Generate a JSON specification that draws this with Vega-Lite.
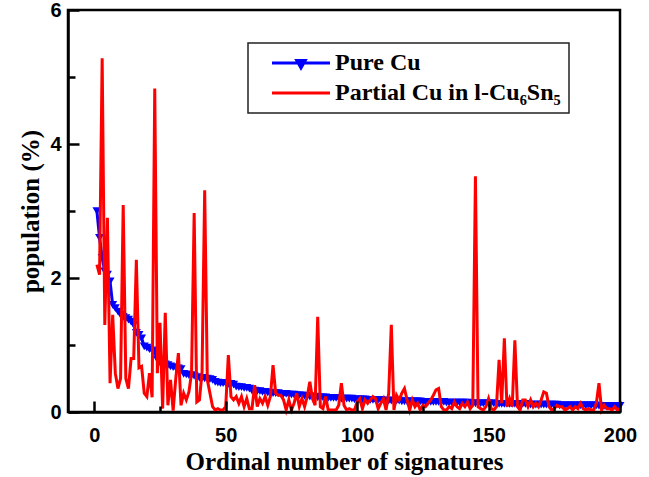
{
"$schema": "https://vega.github.io/schema/vega-lite/v6.json",
"width": 552, "height": 402,
"autosize": "none",
"padding": {"left": 68, "top": 10, "right": 29, "bottom": 65},
"background": "white",
"config": {"view": {"stroke": "black", "strokeWidth": 2.5}},
"data": {"values": [
{"n":1,"pure":3.00,"partial":2.20},{"n":2,"pure":2.60,"partial":2.05},{"n":3,"pure":2.30,"partial":5.28},{"n":4,"pure":2.10,"partial":1.30},{"n":5,"pure":2.05,"partial":2.90},
{"n":6,"pure":1.95,"partial":0.43},{"n":7,"pure":1.60,"partial":1.45},{"n":8,"pure":1.55,"partial":0.58},{"n":9,"pure":1.50,"partial":0.35},{"n":10,"pure":1.45,"partial":0.50},
{"n":11,"pure":1.42,"partial":3.09},{"n":12,"pure":1.40,"partial":0.50},{"n":13,"pure":1.38,"partial":0.35},{"n":14,"pure":1.35,"partial":0.80},{"n":15,"pure":1.30,"partial":0.80},
{"n":16,"pure":1.18,"partial":2.27},{"n":17,"pure":1.15,"partial":0.66},{"n":18,"pure":1.10,"partial":0.68},{"n":19,"pure":0.98,"partial":0.28},{"n":20,"pure":0.96,"partial":0.23},
{"n":21,"pure":0.94,"partial":0.58},{"n":22,"pure":0.92,"partial":0.22},{"n":23,"pure":0.90,"partial":4.83},{"n":24,"pure":0.78,"partial":0.58},{"n":25,"pure":0.74,"partial":1.33},
{"n":26,"pure":0.72,"partial":0.05},{"n":27,"pure":0.71,"partial":1.48},{"n":28,"pure":0.70,"partial":0.10},{"n":29,"pure":0.68,"partial":0.48},{"n":30,"pure":0.67,"partial":0.02},
{"n":31,"pure":0.66,"partial":0.50},{"n":32,"pure":0.65,"partial":0.88},{"n":33,"pure":0.64,"partial":0.10},{"n":34,"pure":0.57,"partial":0.28},{"n":35,"pure":0.56,"partial":0.18},
{"n":36,"pure":0.55,"partial":0.30},{"n":37,"pure":0.55,"partial":0.58},{"n":38,"pure":0.54,"partial":2.97},{"n":39,"pure":0.52,"partial":0.15},{"n":40,"pure":0.51,"partial":0.18},
{"n":41,"pure":0.51,"partial":0.60},{"n":42,"pure":0.50,"partial":3.31},{"n":43,"pure":0.50,"partial":0.48},{"n":44,"pure":0.49,"partial":0.28},{"n":45,"pure":0.48,"partial":0.08},
{"n":46,"pure":0.45,"partial":0.03},{"n":47,"pure":0.44,"partial":0.05},{"n":48,"pure":0.43,"partial":0.03},{"n":49,"pure":0.43,"partial":0.03},{"n":50,"pure":0.43,"partial":0.08},
{"n":51,"pure":0.42,"partial":0.85},{"n":52,"pure":0.42,"partial":0.23},{"n":53,"pure":0.41,"partial":0.18},{"n":54,"pure":0.38,"partial":0.23},{"n":55,"pure":0.37,"partial":0.13},
{"n":56,"pure":0.37,"partial":0.23},{"n":57,"pure":0.36,"partial":0.08},{"n":58,"pure":0.36,"partial":0.20},{"n":59,"pure":0.35,"partial":0.05},{"n":60,"pure":0.32,"partial":0.05},
{"n":61,"pure":0.32,"partial":0.40},{"n":62,"pure":0.31,"partial":0.08},{"n":63,"pure":0.31,"partial":0.20},{"n":64,"pure":0.30,"partial":0.13},{"n":65,"pure":0.30,"partial":0.23},
{"n":66,"pure":0.29,"partial":0.10},{"n":67,"pure":0.29,"partial":0.23},{"n":68,"pure":0.28,"partial":0.70},{"n":69,"pure":0.28,"partial":0.28},{"n":70,"pure":0.28,"partial":0.25},
{"n":71,"pure":0.27,"partial":0.25},{"n":72,"pure":0.27,"partial":0.18},{"n":73,"pure":0.27,"partial":0.03},{"n":74,"pure":0.26,"partial":0.18},{"n":75,"pure":0.26,"partial":0.03},
{"n":76,"pure":0.26,"partial":0.13},{"n":77,"pure":0.25,"partial":0.28},{"n":78,"pure":0.25,"partial":0.08},{"n":79,"pure":0.25,"partial":0.20},{"n":80,"pure":0.24,"partial":0.08},
{"n":81,"pure":0.24,"partial":0.23},{"n":82,"pure":0.23,"partial":0.45},{"n":83,"pure":0.23,"partial":0.20},{"n":84,"pure":0.23,"partial":0.10},{"n":85,"pure":0.22,"partial":1.42},
{"n":86,"pure":0.22,"partial":0.08},{"n":87,"pure":0.22,"partial":0.05},{"n":88,"pure":0.22,"partial":0.23},{"n":89,"pure":0.21,"partial":0.03},{"n":90,"pure":0.21,"partial":0.03},
{"n":91,"pure":0.21,"partial":0.03},{"n":92,"pure":0.21,"partial":0.03},{"n":93,"pure":0.21,"partial":0.10},{"n":94,"pure":0.20,"partial":0.43},{"n":95,"pure":0.20,"partial":0.10},
{"n":96,"pure":0.20,"partial":0.03},{"n":97,"pure":0.20,"partial":0.05},{"n":98,"pure":0.20,"partial":0.03},{"n":99,"pure":0.19,"partial":0.03},{"n":100,"pure":0.19,"partial":0.15},
{"n":101,"pure":0.19,"partial":0.20},{"n":102,"pure":0.19,"partial":0.05},{"n":103,"pure":0.19,"partial":0.18},{"n":104,"pure":0.18,"partial":0.13},{"n":105,"pure":0.18,"partial":0.18},
{"n":106,"pure":0.18,"partial":0.23},{"n":107,"pure":0.18,"partial":0.20},{"n":108,"pure":0.18,"partial":0.05},{"n":109,"pure":0.18,"partial":0.13},{"n":110,"pure":0.17,"partial":0.20},
{"n":111,"pure":0.17,"partial":0.03},{"n":112,"pure":0.17,"partial":0.28},{"n":113,"pure":0.17,"partial":1.30},{"n":114,"pure":0.17,"partial":0.03},{"n":115,"pure":0.17,"partial":0.25},
{"n":116,"pure":0.17,"partial":0.18},{"n":117,"pure":0.16,"partial":0.28},{"n":118,"pure":0.16,"partial":0.35},{"n":119,"pure":0.16,"partial":0.18},{"n":120,"pure":0.16,"partial":0.03},
{"n":121,"pure":0.16,"partial":0.18},{"n":122,"pure":0.16,"partial":0.08},{"n":123,"pure":0.16,"partial":0.13},{"n":124,"pure":0.16,"partial":0.03},{"n":125,"pure":0.15,"partial":0.10},
{"n":126,"pure":0.15,"partial":0.08},{"n":127,"pure":0.15,"partial":0.13},{"n":128,"pure":0.15,"partial":0.18},{"n":129,"pure":0.15,"partial":0.25},{"n":130,"pure":0.15,"partial":0.33},
{"n":131,"pure":0.15,"partial":0.35},{"n":132,"pure":0.15,"partial":0.08},{"n":133,"pure":0.15,"partial":0.03},{"n":134,"pure":0.14,"partial":0.03},{"n":135,"pure":0.14,"partial":0.08},
{"n":136,"pure":0.14,"partial":0.05},{"n":137,"pure":0.14,"partial":0.15},{"n":138,"pure":0.14,"partial":0.08},{"n":139,"pure":0.14,"partial":0.05},{"n":140,"pure":0.14,"partial":0.13},
{"n":141,"pure":0.14,"partial":0.08},{"n":142,"pure":0.14,"partial":0.15},{"n":143,"pure":0.13,"partial":0.05},{"n":144,"pure":0.13,"partial":0.10},{"n":145,"pure":0.13,"partial":3.52},
{"n":146,"pure":0.13,"partial":0.08},{"n":147,"pure":0.13,"partial":0.05},{"n":148,"pure":0.13,"partial":0.03},{"n":149,"pure":0.13,"partial":0.08},{"n":150,"pure":0.13,"partial":0.20},
{"n":151,"pure":0.13,"partial":0.05},{"n":152,"pure":0.13,"partial":0.03},{"n":153,"pure":0.12,"partial":0.08},{"n":154,"pure":0.12,"partial":0.78},{"n":155,"pure":0.12,"partial":0.13},
{"n":156,"pure":0.12,"partial":1.10},{"n":157,"pure":0.12,"partial":0.08},{"n":158,"pure":0.12,"partial":0.20},{"n":159,"pure":0.12,"partial":0.08},{"n":160,"pure":0.12,"partial":1.07},
{"n":161,"pure":0.12,"partial":0.08},{"n":162,"pure":0.12,"partial":0.03},{"n":163,"pure":0.12,"partial":0.18},{"n":164,"pure":0.12,"partial":0.18},{"n":165,"pure":0.11,"partial":0.08},
{"n":166,"pure":0.11,"partial":0.18},{"n":167,"pure":0.11,"partial":0.08},{"n":168,"pure":0.11,"partial":0.13},{"n":169,"pure":0.11,"partial":0.08},{"n":170,"pure":0.11,"partial":0.18},
{"n":171,"pure":0.11,"partial":0.30},{"n":172,"pure":0.11,"partial":0.28},{"n":173,"pure":0.11,"partial":0.08},{"n":174,"pure":0.11,"partial":0.03},{"n":175,"pure":0.11,"partial":0.05},
{"n":176,"pure":0.11,"partial":0.10},{"n":177,"pure":0.10,"partial":0.08},{"n":178,"pure":0.10,"partial":0.08},{"n":179,"pure":0.10,"partial":0.03},{"n":180,"pure":0.10,"partial":0.05},
{"n":181,"pure":0.10,"partial":0.08},{"n":182,"pure":0.10,"partial":0.03},{"n":183,"pure":0.10,"partial":0.08},{"n":184,"pure":0.10,"partial":0.05},{"n":185,"pure":0.10,"partial":0.13},
{"n":186,"pure":0.10,"partial":0.05},{"n":187,"pure":0.10,"partial":0.03},{"n":188,"pure":0.10,"partial":0.05},{"n":189,"pure":0.10,"partial":0.03},{"n":190,"pure":0.10,"partial":0.03},
{"n":191,"pure":0.10,"partial":0.13},{"n":192,"pure":0.09,"partial":0.43},{"n":193,"pure":0.09,"partial":0.03},{"n":194,"pure":0.09,"partial":0.10},{"n":195,"pure":0.09,"partial":0.05},
{"n":196,"pure":0.09,"partial":0.05},{"n":197,"pure":0.09,"partial":0.03},{"n":198,"pure":0.09,"partial":0.08},{"n":199,"pure":0.09,"partial":0.03},{"n":200,"pure":0.09,"partial":0.05}
]},
"encoding": {
  "x": {"field": "n", "type": "quantitative",
    "scale": {"domain": [-10, 200], "nice": false, "zero": false},
    "axis": {
      "values": [0,25,50,75,100,125,150,175,200],
      "format": "d",
      "labelExpr": "datum.value % 50 === 0 ? datum.label : ''",
      "labelFlush": false,
      "ticks": true,
      "tickSize": {"condition": {"test": "datum.value % 50 !== 0", "value": -6}, "value": -11},
      "tickWidth": 2.5, "tickColor": "black", "tickOpacity": 1,
      "domainColor": "black", "domainWidth": 2.5,
      "labelFont": "Liberation Sans", "labelFontWeight": "bold", "labelFontSize": 20, "labelColor": "black",
      "labelPadding": 24,
      "title": "Ordinal number of signatures", "titleFont": "Liberation Serif", "titleFontWeight": "bold", "titleFontSize": 25, "titleColor": "black", "titlePadding": 4,
      "grid": false, "zindex": 1
    }
  }
},
"layer": [
  {"mark": {"type": "line", "strokeWidth": 3},
   "encoding": {
     "y": {"field": "pure", "type": "quantitative", "title": "population (%)",
       "scale": {"domain": [0, 6], "nice": false},
       "axis": {
         "values": [0,1,2,3,4,5,6],
         "format": "d",
         "labelExpr": "datum.value % 2 === 0 ? datum.label : ''",
         "labelFlush": false,
         "ticks": true,
         "tickSize": {"condition": {"test": "datum.value % 2 !== 0", "value": -7}, "value": -11},
         "tickWidth": 2.5, "tickColor": "black", "tickOpacity": 1,
         "domainColor": "black", "domainWidth": 2.5,
         "labelFont": "Liberation Sans", "labelFontWeight": "bold", "labelFontSize": 20, "labelColor": "black",
         "labelPadding": 18,
         "titleFont": "Liberation Serif", "titleFontWeight": "bold", "titleFontSize": 25, "titleColor": "black", "titlePadding": 6,
         "grid": false, "zindex": 1
       }
     },
     "color": {"datum": "Pure Cu", "type": "nominal",
       "scale": {"domain": ["Pure Cu", "Partial Cu in l-Cu₆Sn₅"], "range": ["#0000ff", "#ff0000"]},
       "legend": {
         "orient": "none", "legendX": 180, "legendY": 33, "title": null,
         "strokeColor": "#222222", "fillColor": "white", "padding": 8,
         "symbolSize": 400, "symbolStrokeWidth": 3, "symbolOffset": 33, "labelOffset": 22,
         "labelFont": "Liberation Serif", "labelFontWeight": "bold", "labelFontSize": 24, "labelColor": "black",
         "labelLimit": 400, "rowPadding": 6,
         "encode": {
           "symbols": {"update": {
             "shape": {"signal": "datum.value === 'Pure Cu' ? 'M-2.9,0L2.9,0M-0.42,-0.25L0.42,-0.25L0,0.5Z' : 'M-2.9,0L2.9,0'"},
             "fill": {"signal": "datum.value === 'Pure Cu' ? '#0000ff' : 'transparent'"},
             "stroke": {"signal": "datum.value === 'Pure Cu' ? '#0000ff' : '#ff0000'"},
             "strokeWidth": {"value": 3},
             "opacity": {"value": 1}
           }},
           "legend": {"update": {"strokeWidth": {"value": 1.5}}}
         }
       }
     }
   }
  },
  {"mark": {"type": "point", "shape": "triangle-down", "filled": true, "size": 80, "opacity": 1},
   "encoding": {
     "y": {"field": "pure", "type": "quantitative", "title": "population (%)"},
     "color": {"datum": "Pure Cu", "type": "nominal"}
   }
  },
  {"mark": {"type": "line", "strokeWidth": 3},
   "encoding": {
     "y": {"field": "partial", "type": "quantitative", "title": "population (%)"},
     "color": {"datum": "Partial Cu in l-Cu₆Sn₅", "type": "nominal"}
   }
  }
]
}
